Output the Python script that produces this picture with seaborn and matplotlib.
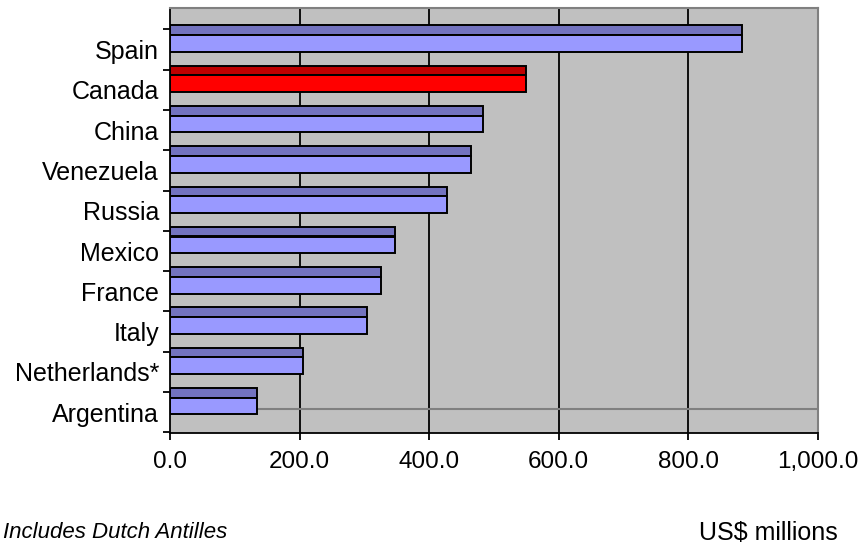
import pandas as pd
import matplotlib
matplotlib.use("Agg")
import matplotlib.pyplot as plt
import seaborn as sns

# Dados (US$ millions)
countries = ["Spain", "Canada", "China", "Venezuela", "Russia",
             "Mexico", "France", "Italy", "Netherlands*", "Argentina"]
values = [883, 550, 483, 464, 427, 347, 325, 304, 205, 134]
x_ticks = [0, 200, 400, 600, 800, 1000]
x_tick_labels = ["0.0", "200.0", "400.0", "600.0", "800.0", "1,000.0"]
highlight = "Canada"

sns.set_theme(style="white")
plt.rcParams['font.family'] = ['Liberation Sans', 'DejaVu Sans']
plt.rcParams['text.color'] = 'black'
plt.rcParams['xtick.labelcolor'] = 'black'
plt.rcParams['ytick.labelcolor'] = 'black'

df = pd.DataFrame({"country": countries, "value": values})
df["pos"] = range(len(df))
# posições das faces (efeito 3D do Excel)
df["front_pos"] = df["pos"] - 0.152
df["top_pos"] = df["pos"] - 0.48

front_colors = {c: ("#FF0000" if c == highlight else "#9999FF") for c in countries}
top_colors = {c: ("#BF0000" if c == highlight else "#7373BF") for c in countries}

fig = plt.figure(figsize=(8.59, 5.46), dpi=100)
ax = fig.add_axes([170 / 859, 113 / 546, 648 / 859, 425 / 546])
ax.set_facecolor("#C0C0C0")

# linhas de grade verticais e linha do fundo
for xv in x_ticks[1:-1]:
    ax.axvline(xv, color="black", lw=1.3, zorder=1)
ax.axhline(8.928, color="#808080", lw=1.5, zorder=1)

sns.barplot(data=df, x="value", y="top_pos", hue="country", palette=top_colors,
            orient="h", native_scale=True, dodge=False, width=0.24, saturation=1,
            edgecolor="black", linewidth=1.4, legend=False, ax=ax, zorder=2)
sns.barplot(data=df, x="value", y="front_pos", hue="country", palette=front_colors,
            orient="h", native_scale=True, dodge=False, width=0.415, saturation=1,
            edgecolor="black", linewidth=1.4, legend=False, ax=ax, zorder=3)

ax.set_xlim(0, 1000)
ax.set_ylim(9.516, -1.03)
ax.set_xticks(x_ticks)
ax.set_xticklabels(x_tick_labels, fontsize=17.5, color="black")
ax.set_yticks([i + 0.5 for i in range(-1, len(countries))])
ax.set_yticklabels([])
ax.set_yticks(range(len(countries)), minor=True)
ax.set_yticklabels(countries, minor=True, fontsize=18, color="black")
ax.tick_params(axis="y", which="minor", length=0, pad=8)
ax.tick_params(axis="y", which="major", length=5, width=1.3, color="black", direction="out", left=True)
ax.tick_params(axis="x", length=5, width=1.3, color="black", direction="out", bottom=True, pad=8)
ax.set_xlabel("")
ax.set_ylabel("")

for side in ["top", "right"]:
    ax.spines[side].set_color("#808080")
    ax.spines[side].set_linewidth(1.5)
for side in ["left", "bottom"]:
    ax.spines[side].set_color("black")
    ax.spines[side].set_linewidth(1.3)

fig.text(3 / 859, 1 - 532 / 546, "Includes Dutch Antilles", fontsize=16,
         style="italic", va="center", ha="left", color="black")
fig.text(838 / 859, 1 - 533 / 546, "US$ millions", fontsize=18,
         va="center", ha="right", color="black")

fig.savefig("out.png", dpi=100)
